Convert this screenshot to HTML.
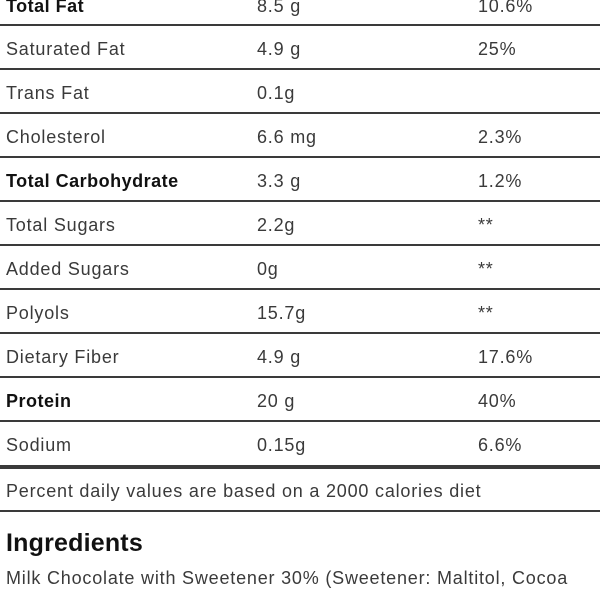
<!DOCTYPE html>
<html><head><style>
body{margin:0;width:600px;height:600px;overflow:hidden;background:#fff;font-family:"Liberation Sans",sans-serif;color:#3a3a3a;font-size:18px;letter-spacing:0.8px;position:relative}
.l{position:absolute;left:0;width:600px;height:2px;background:#3a3a3a}
.t{position:absolute;line-height:20px;white-space:nowrap;margin-top:2px}
b{color:#111;letter-spacing:0.5px}
</style></head><body>
<div class="t" style="left:6px;top:-6px"><b>Total Fat</b></div><div class="t" style="left:257px;top:-6px">8.5 g</div><div class="t" style="left:478px;top:-6px">10.6%</div>
<div class="l" style="top:24px"></div>
<div class="t" style="left:6px;top:37px">Saturated Fat</div><div class="t" style="left:257px;top:37px">4.9 g</div><div class="t" style="left:478px;top:37px">25%</div>
<div class="l" style="top:68px"></div>
<div class="t" style="left:6px;top:81px">Trans Fat</div><div class="t" style="left:257px;top:81px">0.1g</div>
<div class="l" style="top:112px"></div>
<div class="t" style="left:6px;top:125px">Cholesterol</div><div class="t" style="left:257px;top:125px">6.6 mg</div><div class="t" style="left:478px;top:125px">2.3%</div>
<div class="l" style="top:156px"></div>
<div class="t" style="left:6px;top:169px"><b>Total Carbohydrate</b></div><div class="t" style="left:257px;top:169px">3.3 g</div><div class="t" style="left:478px;top:169px">1.2%</div>
<div class="l" style="top:200px"></div>
<div class="t" style="left:6px;top:213px">Total Sugars</div><div class="t" style="left:257px;top:213px">2.2g</div><div class="t" style="left:478px;top:213px">**</div>
<div class="l" style="top:244px"></div>
<div class="t" style="left:6px;top:257px">Added Sugars</div><div class="t" style="left:257px;top:257px">0g</div><div class="t" style="left:478px;top:257px">**</div>
<div class="l" style="top:288px"></div>
<div class="t" style="left:6px;top:301px">Polyols</div><div class="t" style="left:257px;top:301px">15.7g</div><div class="t" style="left:478px;top:301px">**</div>
<div class="l" style="top:332px"></div>
<div class="t" style="left:6px;top:345px">Dietary Fiber</div><div class="t" style="left:257px;top:345px">4.9 g</div><div class="t" style="left:478px;top:345px">17.6%</div>
<div class="l" style="top:376px"></div>
<div class="t" style="left:6px;top:389px"><b>Protein</b></div><div class="t" style="left:257px;top:389px">20 g</div><div class="t" style="left:478px;top:389px">40%</div>
<div class="l" style="top:420px"></div>
<div class="t" style="left:6px;top:433px">Sodium</div><div class="t" style="left:257px;top:433px">0.15g</div><div class="t" style="left:478px;top:433px">6.6%</div>
<div class="l" style="top:465px;height:4px"></div>
<div class="t" style="left:6px;top:479px">Percent daily values are based on a 2000 calories diet</div>
<div class="l" style="top:510px"></div>
<div class="t" style="left:6px;top:527px;font-size:25px;line-height:28px;font-weight:bold;color:#111;letter-spacing:0.2px">Ingredients</div>
<div class="t" style="left:6px;top:566px">Milk Chocolate with Sweetener 30% (Sweetener: Maltitol, Cocoa</div>
</body></html>
